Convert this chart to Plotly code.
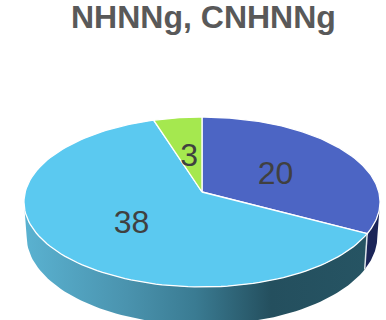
import numpy as np
import plotly.graph_objects as go

categories = ["NHNNg", "CNHNNg", "Other"]
values = [20, 38, 3]
top_colors = ["#4c65c4", "#5bc9f0", "#a5e84f"]
blue_wall = "#1b2558"
chart_title = "NHNNg, CNHNNg"

# Projection of the tilted disc
CX, CY = 202.0, 192.0
RX, RY, PERSP = 176.8, 83.8, 0.1176
DEPTH, BASE_SX, BASE_SY, MID_Y = 34.5, 0.985, 1.04, 202.0


def project(theta, frac=1.0):
    d = 1 + PERSP * frac * np.cos(theta)
    return CX + RX * frac * np.sin(theta) / d, CY - RY * frac * np.cos(theta) / d


def project_base(theta):
    x, y = project(theta)
    return CX + (x - CX) * BASE_SX, MID_Y + (y - MID_Y) * BASE_SY + DEPTH


def wall(t0, t1):
    t = np.linspace(t0, t1, 80)
    xt, yt = project(t)
    xb, yb = project_base(t[::-1])
    return np.r_[xt, xb, xt[0]], np.r_[yt, yb, yt[0]]


total = sum(values)
edges = np.r_[0, np.cumsum(values)] / total * 2 * np.pi
silhouette = np.arccos(-PERSP)

fig = go.Figure()

# Side walls, drawn first so the top faces cover their back edges
x, y = wall(silhouette, edges[1])
fig.add_trace(go.Scatter(x=x, y=y, mode="lines", fill="toself", fillcolor=blue_wall,
                         line=dict(width=0, color=blue_wall), hoverinfo="skip"))
x, y = wall(edges[1], 2 * np.pi - silhouette)
fig.add_trace(go.Scatter(
    x=x, y=y, mode="lines", fill="toself", line=dict(width=0, color="#265463"),
    fillgradient=dict(
        type="horizontal", start=float(x.min()), stop=float(x.max()),
        colorscale=[[0, "#5ab2d1"], [0.3, "#4a93ae"], [0.5, "#3a7b92"],
                    [0.72, "#244f5e"], [1, "#265463"]],
    ),
    hoverinfo="skip"))
# Seam between the two walls
sx, sy = project(edges[1])
bx, by = project_base(edges[1])
fig.add_trace(go.Scatter(x=[sx, bx], y=[sy, by], mode="lines",
                         line=dict(color="#dfe6ea", width=1.5), hoverinfo="skip"))

# Top faces
for i, col in enumerate(top_colors):
    t = np.linspace(edges[i], edges[i + 1], 120)
    ex, ey = project(t)
    fig.add_trace(go.Scatter(
        x=np.r_[CX, ex, CX], y=np.r_[CY, ey, CY], mode="lines", fill="toself",
        fillcolor=col, line=dict(color="#ffffff", width=1.3), name=categories[i],
        hoverinfo="skip"))

# Value labels at half radius along each slice's mid angle
mids = (edges[:-1] + edges[1:]) / 2
lx, ly = project(mids, 0.5)
fig.add_trace(go.Scatter(
    x=lx, y=ly + 5, mode="text", text=[str(v) for v in values], textposition="middle center",
    textfont=dict(family="Liberation Sans", size=32, color="#404040"), hoverinfo="skip"))

fig.update_layout(
    width=386, height=320, margin=dict(l=0, r=0, t=0, b=0),
    paper_bgcolor="#ffffff", plot_bgcolor="#ffffff", showlegend=False,
    xaxis=dict(range=[0, 386], visible=False, fixedrange=True),
    yaxis=dict(range=[320, 0], visible=False, fixedrange=True),
    annotations=[dict(
        text=f"<b>{chart_title}</b>", x=203, y=17, xref="x", yref="y",
        showarrow=False, xanchor="center", yanchor="middle",
        font=dict(family="Liberation Sans", size=32, color="#595959"))],
)

fig.write_html("out.html", config={"displayModeBar": False})
